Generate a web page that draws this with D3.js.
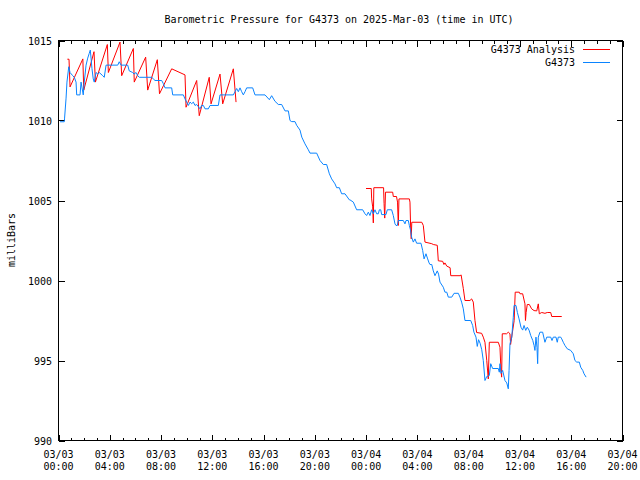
<!DOCTYPE html>
<html><head><meta charset="utf-8">
<script src="https://cdn.jsdelivr.net/npm/d3@7"></script>
<style>
html,body{margin:0;padding:0;background:#fff;}
svg{display:block;}
text{font-family:"DejaVu Sans Mono","Liberation Mono",monospace;font-size:10px;fill:#000;}
</style></head>
<body>
<svg id="chart" width="640" height="480"></svg>
<script>
// Hours since 2025-03-03 00:00 UTC, pressure in millibars
const stationSeries = [
[0.12,1009.92],[0.45,1009.92],[0.47,1010.1],[0.59,1011.4],[0.66,1012.4],[0.80,1013.36],[0.90,1013.0],
[1.11,1012.8],[1.23,1012.7],[1.37,1012.4],[1.42,1011.6],[1.68,1011.6],[1.76,1012.4],[1.93,1011.6],
[2.01,1012.4],[2.15,1013.46],[2.28,1013.9],[2.40,1014.2],[2.48,1014.4],[2.54,1013.9],[2.61,1013.25],
[2.71,1012.6],[2.79,1012.4],[2.93,1013.0],[3.06,1012.9],[3.18,1013.0],[3.45,1012.8],[3.57,1012.7],
[3.71,1013.46],[4.62,1013.46],[4.74,1013.67],[4.88,1013.46],[5.40,1013.46],[5.52,1013.1],[5.79,1013.0],
[5.89,1012.9],[6.05,1013.0],[6.18,1012.8],[6.30,1012.7],[7.27,1012.7],[7.40,1012.6],[7.53,1012.5],
[8.05,1012.5],[8.18,1012.3],[8.31,1012.04],[8.83,1012.04],[8.91,1011.6],[9.74,1011.6],[9.87,1011.35],
[10.0,1011.15],[10.13,1010.94],[10.26,1011.15],[10.39,1011.05],[10.52,1011.15],[10.65,1010.94],
[10.78,1011.0],[11.04,1010.73],[11.17,1010.94],[11.3,1010.94],[11.43,1010.73],[11.69,1010.73],
[11.82,1010.94],[12.47,1010.94],[12.6,1011.6],[13.64,1011.6],[13.77,1011.8],[13.9,1012.0],[14.03,1011.8],
[14.16,1012.04],[14.29,1011.8],[14.42,1011.6],[14.55,1011.8],[14.68,1012.04],[15.15,1012.04],
[15.33,1011.6],[16.11,1011.6],[16.45,1011.3],[16.63,1011.55],[16.89,1011.2],[17.15,1011.0],[17.41,1011.0],
[17.67,1010.6],[17.93,1010.6],[18.06,1010.0],[18.19,1009.93],[18.45,1009.93],[18.58,1009.7],[18.84,1009.4],
[18.98,1008.96],[19.23,1008.54],[19.49,1008.17],[19.62,1007.96],[20.14,1007.96],[20.4,1007.5],
[20.66,1007.25],[20.92,1007.25],[21.13,1006.67],[21.31,1006.35],[21.57,1006.04],[21.7,1005.8],
[21.91,1005.8],[22.09,1005.42],[22.35,1005.42],[22.69,1005.04],[22.74,1005.04],[23.0,1004.9],
[23.26,1004.42],[23.73,1004.42],[23.91,1004.17],[24.04,1004.06],[24.17,1004.27],[24.3,1004.06],
[24.43,1004.42],[24.56,1004.17],[24.69,1004.42],[24.82,1004.17],[24.95,1004.17],[25.03,1004.42],
[25.14,1004.42],[25.21,1004.12],[25.55,1004.12],[25.65,1004.42],[25.99,1004.42],[26.12,1004.06],
[26.25,1003.54],[26.33,1003.44],[26.43,1003.44],[26.51,1003.75],[26.9,1003.75],[27.03,1003.54],
[27.11,1003.75],[27.29,1003.75],[27.37,1003.44],[27.48,1003.1],[27.55,1002.7],[27.68,1002.4],
[27.81,1002.6],[27.94,1002.33],[28.28,1002.33],[28.41,1001.88],[28.52,1001.35],[28.67,1001.67],
[28.8,1001.35],[28.91,1001.1],[28.98,1001.0],[29.12,1001.0],[29.24,1000.6],[29.37,1000.3],
[29.55,1000.6],[29.65,1000.4],[29.76,999.9],[30.02,999.58],[30.15,999.27],[30.29,999.27],[30.41,998.96],
[30.68,998.96],[30.86,999.2],[31.19,999.2],[31.32,998.96],[31.45,998.65],[31.58,998.23],[31.71,997.5],
[32.16,997.5],[32.31,997.19],[32.41,996.77],[32.57,996.46],[32.67,995.88],[32.77,996.3],[32.89,996.08],
[33.02,995.67],[33.14,995.0],[33.27,993.75],[33.41,994.0],[33.61,994.06],[33.72,994.8],[33.87,994.5],
[34.31,994.5],[34.39,994.27],[34.44,994.8],[34.52,994.2],[34.65,994.38],[34.83,993.75],[34.97,993.6],
[35.09,993.23],[35.15,994.38],[35.22,996.04],[35.36,996.46],[35.48,997.7],[35.54,998.44],[35.69,998.44],
[35.8,998.0],[35.93,997.6],[36.08,997.08],[36.21,996.9],[36.32,997.19],[36.45,996.88],[36.57,997.08],
[36.71,996.9],[36.84,996.56],[37.0,996.25],[37.1,995.94],[37.17,995.63],[37.25,996.46],[37.33,995.8],
[37.38,994.8],[37.43,996.46],[37.56,996.77],[37.77,996.77],[37.95,996.14],[38.09,996.46],[38.4,996.46],
[38.5,996.25],[38.6,996.46],[38.81,996.46],[38.91,996.14],[38.99,996.46],[39.18,996.46],[39.26,996.35],
[39.38,996.14],[39.51,995.94],[39.69,995.73],[39.96,995.63],[40.16,995.42],[40.29,995.0],[40.43,994.9],
[40.63,994.9],[40.74,994.58],[40.9,994.38],[41.0,994.17],[41.16,993.96]
];
const analysisFirstRun = [
[0.69,1013.83],[0.82,1013.83],[0.9,1012.1],[1.9,1013.85],[1.97,1011.9],[2.77,1014.3],[2.88,1012.4],
[3.81,1014.75],[3.89,1013.0],[4.8,1014.9],[4.93,1012.8],[5.84,1014.5],[5.91,1012.4],[6.8,1013.96],
[6.96,1011.9],[7.71,1013.8],[7.88,1011.67],[8.83,1013.23],[9.87,1012.85],[9.95,1010.83],[10.78,1012.5],
[10.98,1010.3],[11.76,1012.7],[11.9,1011.04],[12.6,1012.9],[12.81,1011.04],[13.64,1013.23],[13.85,1011.15]
];
const analysisSecondRun = [
[23.99,1005.75],[24.4,1005.75],[24.43,1005.1],[24.51,1004.6],[24.56,1003.6],[24.6,1005.8],[25.36,1005.8],
[25.4,1004.8],[25.45,1003.9],[25.51,1005.52],[26.07,1005.52],[26.12,1005.25],[26.37,1005.25],[26.45,1004.9],
[26.51,1003.44],[26.56,1005.1],[27.37,1005.1],[27.42,1004.9],[27.48,1003.1],[27.52,1002.6],[27.56,1003.64],
[28.34,1003.64],[28.46,1003.44],[28.59,1002.4],[29.12,1002.3],[29.24,1002.25],[29.55,1002.2],[29.63,1001.23],
[29.97,1001.2],[30.07,1001.0],[30.15,1001.1],[30.29,1000.9],[30.55,1000.8],[30.6,1000.3],[31.33,1000.3],
[31.41,1000.35],[31.58,999.5],[31.71,998.75],[32.1,998.75],[32.23,998.85],[32.36,998.65],[32.49,997.5],
[32.62,996.75],[33.01,996.7],[33.14,996.46],[33.27,996.14],[33.41,995.0],[33.53,993.85],[33.61,996.14],
[34.31,996.14],[34.44,995.83],[34.52,994.4],[34.57,993.96],[34.62,996.67],[34.96,996.67],[35.09,996.77],
[35.22,996.67],[35.27,996.0],[35.55,997.5],[35.63,999.27],[35.95,999.27],[36.0,999.17],[36.21,999.17],
[36.39,998.54],[36.43,997.5],[36.48,998.0],[36.57,998.5],[36.73,998.5],[36.91,998.23],[37.1,998.12],
[37.31,998.1],[37.43,998.54],[37.51,997.92],[37.7,998.0],[37.95,997.95],[38.13,998.0],[38.4,998.0],
[38.48,997.75],[39.26,997.75]
];
const yTickValues = [990, 995, 1000, 1005, 1010, 1015];
const legendLabels = ["G4373 Analysis", "G4373"];
const seriesColors = ["#ff0000", "#0a84ff"];
const titleText = "Barometric Pressure for G4373 on 2025-Mar-03 (time in UTC)";
const yLabel = "milliBars";

const start = Date.UTC(2025, 2, 3, 0, 0);
const toDate = h => new Date(start + h * 3600000);

const svg = d3.select("#chart");
const L = 58.5, R = 622.5, T = 40.5, B = 440.5;

const x = d3.scaleUtc().domain([toDate(0), toDate(44)]).range([L, R]);
const y = d3.scaleLinear().domain([990, 1015]).range([B, T]);

// title
svg.append("text").attr("x", 339).attr("y", 23).attr("text-anchor", "middle").text(titleText);

// y label
svg.append("text").attr("transform", "translate(15,240) rotate(-90)")
  .attr("text-anchor", "middle").text(yLabel);

// frame
svg.append("rect").attr("x", L).attr("y", T).attr("width", R - L).attr("height", B - T)
  .attr("fill", "none").attr("stroke", "#000").attr("stroke-width", 1).attr("shape-rendering", "crispEdges");

const g = svg.append("g").attr("shape-rendering", "crispEdges");
// x ticks (minor hourly, major every 4 hours), bottom and top
const minor = x.ticks(d3.utcHour.every(1));
const major = x.ticks(d3.utcHour.every(4));
minor.forEach(d => {
  const isMajor = d.getUTCHours() % 4 === 0;
  const len = isMajor ? 6 : 3;
  const xx = Math.round(x(d)) + 0.5;
  g.append("line").attr("x1", xx).attr("x2", xx).attr("y1", B).attr("y2", B - len).attr("stroke", "#000");
  g.append("line").attr("x1", xx).attr("x2", xx).attr("y1", T).attr("y2", T + len).attr("stroke", "#000");
});
const fmtD = d3.utcFormat("%m/%d"), fmtT = d3.utcFormat("%H:%M");
major.forEach(d => {
  const xx = x(d);
  svg.append("text").attr("x", xx).attr("y", 458).attr("text-anchor", "middle").text(fmtD(d));
  svg.append("text").attr("x", xx).attr("y", 470).attr("text-anchor", "middle").text(fmtT(d));
});
// y ticks
yTickValues.forEach(v => {
  const yy = Math.round(y(v)) + 0.5;
  g.append("line").attr("x1", L).attr("x2", L + 6).attr("y1", yy).attr("y2", yy).attr("stroke", "#000");
  g.append("line").attr("x1", R).attr("x2", R - 6).attr("y1", yy).attr("y2", yy).attr("stroke", "#000");
  svg.append("text").attr("x", 52).attr("y", y(v) + 4).attr("text-anchor", "end").text(v);
});

const line = d3.line().x(d => x(toDate(d[0]))).y(d => y(d[1]));
const plot = svg.append("g");
[analysisFirstRun, analysisSecondRun].forEach(arr => {
  plot.append("path").datum(arr).attr("d", line).attr("fill", "none")
    .attr("stroke", seriesColors[0]).attr("stroke-width", 1);
});
plot.append("path").datum(stationSeries).attr("d", line).attr("fill", "none")
  .attr("stroke", seriesColors[1]).attr("stroke-width", 1);

// legend
legendLabels.forEach((lab, i) => {
  const ly = 50 + i * 13;
  svg.append("text").attr("x", 575).attr("y", ly + 3).attr("text-anchor", "end").text(lab);
  svg.append("line").attr("x1", 583).attr("x2", 610).attr("y1", ly - 0.5).attr("y2", ly - 0.5)
    .attr("stroke", seriesColors[i]).attr("stroke-width", 1);
});
</script>
</body></html>
